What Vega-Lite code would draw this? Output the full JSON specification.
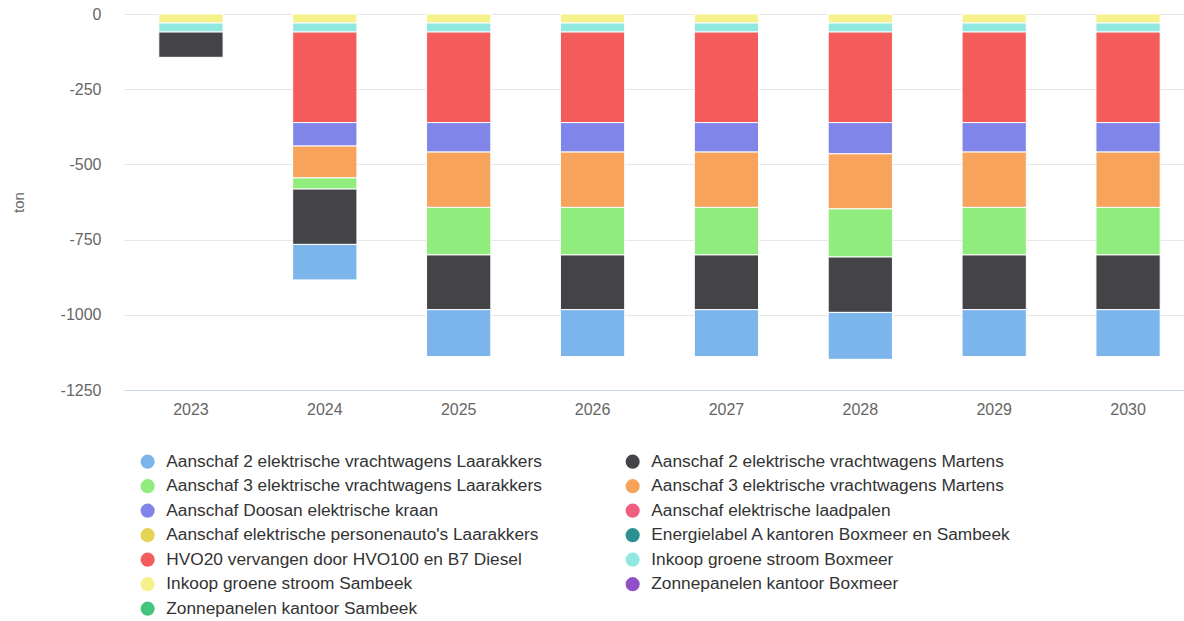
{
  "$schema": "https://vega.github.io/schema/vega-lite/v6.json",
  "autosize": {"type": "none"},
  "padding": {"left": 124, "top": 14, "right": 0, "bottom": 231},
  "width": 1071,
  "height": 376,
  "background": "white",
  "config": {
    "font": "Liberation Sans",
    "view": {"stroke": null}
  },
  "data": {
    "values": [
      {"year": "2023", "series": "Inkoop groene stroom Sambeek", "ton": -30},
      {"year": "2023", "series": "Inkoop groene stroom Boxmeer", "ton": -30},
      {"year": "2023", "series": "Aanschaf 2 elektrische vrachtwagens Martens", "ton": -84},

      {"year": "2024", "series": "Inkoop groene stroom Sambeek", "ton": -30},
      {"year": "2024", "series": "Inkoop groene stroom Boxmeer", "ton": -30},
      {"year": "2024", "series": "HVO20 vervangen door HVO100 en B7 Diesel", "ton": -301},
      {"year": "2024", "series": "Aanschaf Doosan elektrische kraan", "ton": -78},
      {"year": "2024", "series": "Aanschaf 3 elektrische vrachtwagens Martens", "ton": -106},
      {"year": "2024", "series": "Aanschaf 3 elektrische vrachtwagens Laarakkers", "ton": -37},
      {"year": "2024", "series": "Aanschaf 2 elektrische vrachtwagens Martens", "ton": -184},
      {"year": "2024", "series": "Aanschaf 2 elektrische vrachtwagens Laarakkers", "ton": -118},

      {"year": "2025", "series": "Inkoop groene stroom Sambeek", "ton": -30},
      {"year": "2025", "series": "Inkoop groene stroom Boxmeer", "ton": -30},
      {"year": "2025", "series": "HVO20 vervangen door HVO100 en B7 Diesel", "ton": -301},
      {"year": "2025", "series": "Aanschaf Doosan elektrische kraan", "ton": -98},
      {"year": "2025", "series": "Aanschaf 3 elektrische vrachtwagens Martens", "ton": -184},
      {"year": "2025", "series": "Aanschaf 3 elektrische vrachtwagens Laarakkers", "ton": -158},
      {"year": "2025", "series": "Aanschaf 2 elektrische vrachtwagens Martens", "ton": -182},
      {"year": "2025", "series": "Aanschaf 2 elektrische vrachtwagens Laarakkers", "ton": -156},

      {"year": "2026", "series": "Inkoop groene stroom Sambeek", "ton": -30},
      {"year": "2026", "series": "Inkoop groene stroom Boxmeer", "ton": -30},
      {"year": "2026", "series": "HVO20 vervangen door HVO100 en B7 Diesel", "ton": -301},
      {"year": "2026", "series": "Aanschaf Doosan elektrische kraan", "ton": -98},
      {"year": "2026", "series": "Aanschaf 3 elektrische vrachtwagens Martens", "ton": -184},
      {"year": "2026", "series": "Aanschaf 3 elektrische vrachtwagens Laarakkers", "ton": -158},
      {"year": "2026", "series": "Aanschaf 2 elektrische vrachtwagens Martens", "ton": -182},
      {"year": "2026", "series": "Aanschaf 2 elektrische vrachtwagens Laarakkers", "ton": -156},

      {"year": "2027", "series": "Inkoop groene stroom Sambeek", "ton": -30},
      {"year": "2027", "series": "Inkoop groene stroom Boxmeer", "ton": -30},
      {"year": "2027", "series": "HVO20 vervangen door HVO100 en B7 Diesel", "ton": -301},
      {"year": "2027", "series": "Aanschaf Doosan elektrische kraan", "ton": -98},
      {"year": "2027", "series": "Aanschaf 3 elektrische vrachtwagens Martens", "ton": -184},
      {"year": "2027", "series": "Aanschaf 3 elektrische vrachtwagens Laarakkers", "ton": -158},
      {"year": "2027", "series": "Aanschaf 2 elektrische vrachtwagens Martens", "ton": -182},
      {"year": "2027", "series": "Aanschaf 2 elektrische vrachtwagens Laarakkers", "ton": -156},

      {"year": "2028", "series": "Inkoop groene stroom Sambeek", "ton": -30},
      {"year": "2028", "series": "Inkoop groene stroom Boxmeer", "ton": -30},
      {"year": "2028", "series": "HVO20 vervangen door HVO100 en B7 Diesel", "ton": -301},
      {"year": "2028", "series": "Aanschaf Doosan elektrische kraan", "ton": -104},
      {"year": "2028", "series": "Aanschaf 3 elektrische vrachtwagens Martens", "ton": -183},
      {"year": "2028", "series": "Aanschaf 3 elektrische vrachtwagens Laarakkers", "ton": -160},
      {"year": "2028", "series": "Aanschaf 2 elektrische vrachtwagens Martens", "ton": -184},
      {"year": "2028", "series": "Aanschaf 2 elektrische vrachtwagens Laarakkers", "ton": -156},

      {"year": "2029", "series": "Inkoop groene stroom Sambeek", "ton": -30},
      {"year": "2029", "series": "Inkoop groene stroom Boxmeer", "ton": -30},
      {"year": "2029", "series": "HVO20 vervangen door HVO100 en B7 Diesel", "ton": -301},
      {"year": "2029", "series": "Aanschaf Doosan elektrische kraan", "ton": -98},
      {"year": "2029", "series": "Aanschaf 3 elektrische vrachtwagens Martens", "ton": -184},
      {"year": "2029", "series": "Aanschaf 3 elektrische vrachtwagens Laarakkers", "ton": -158},
      {"year": "2029", "series": "Aanschaf 2 elektrische vrachtwagens Martens", "ton": -182},
      {"year": "2029", "series": "Aanschaf 2 elektrische vrachtwagens Laarakkers", "ton": -156},

      {"year": "2030", "series": "Inkoop groene stroom Sambeek", "ton": -30},
      {"year": "2030", "series": "Inkoop groene stroom Boxmeer", "ton": -30},
      {"year": "2030", "series": "HVO20 vervangen door HVO100 en B7 Diesel", "ton": -301},
      {"year": "2030", "series": "Aanschaf Doosan elektrische kraan", "ton": -98},
      {"year": "2030", "series": "Aanschaf 3 elektrische vrachtwagens Martens", "ton": -184},
      {"year": "2030", "series": "Aanschaf 3 elektrische vrachtwagens Laarakkers", "ton": -158},
      {"year": "2030", "series": "Aanschaf 2 elektrische vrachtwagens Martens", "ton": -182},
      {"year": "2030", "series": "Aanschaf 2 elektrische vrachtwagens Laarakkers", "ton": -156}
    ]
  },
  "mark": {"type": "bar", "stroke": "white", "strokeWidth": 1},
  "encoding": {
    "x": {
      "field": "year",
      "type": "ordinal",
      "title": null,
      "scale": {"paddingInner": 0.52, "paddingOuter": 0.26},
      "axis": {
        "labelAngle": 0,
        "labelFontSize": 16,
        "labelColor": "#666666",
        "labelPadding": 11,
        "ticks": false,
        "domainColor": "#ccd6eb",
        "domainWidth": 1,
        "grid": false
      }
    },
    "y": {
      "field": "ton",
      "type": "quantitative",
      "aggregate": "sum",
      "title": "ton",
      "scale": {"domain": [-1250, 0], "nice": false},
      "axis": {
        "values": [0, -250, -500, -750, -1000, -1250],
        "labelExpr": "datum.value == 0 ? '0' : '-' + abs(datum.value)",
        "labelFontSize": 16,
        "labelColor": "#666666",
        "labelPadding": 23,
        "ticks": false,
        "domain": false,
        "gridColor": "#e6e6e6",
        "titleColor": "#666666",
        "titleFontSize": 15,
        "titleFontWeight": "normal",
        "titlePadding": 34
      }
    },
    "color": {
      "field": "series",
      "type": "nominal",
      "scale": {
        "domain": [
          "Aanschaf 2 elektrische vrachtwagens Laarakkers",
          "Aanschaf 2 elektrische vrachtwagens Martens",
          "Aanschaf 3 elektrische vrachtwagens Laarakkers",
          "Aanschaf 3 elektrische vrachtwagens Martens",
          "Aanschaf Doosan elektrische kraan",
          "Aanschaf elektrische laadpalen",
          "Aanschaf elektrische personenauto's Laarakkers",
          "Energielabel A kantoren Boxmeer en Sambeek",
          "HVO20 vervangen door HVO100 en B7 Diesel",
          "Inkoop groene stroom Boxmeer",
          "Inkoop groene stroom Sambeek",
          "Zonnepanelen kantoor Boxmeer",
          "Zonnepanelen kantoor Sambeek"
        ],
        "range": [
          "#7cb5ec", "#434348", "#90ed7d", "#f7a35c", "#8085e9", "#f15c80",
          "#e4d354", "#2b908f", "#f45b5b", "#91e8e1", "#f6f18b", "#9150c8", "#44c57e"
        ]
      },
      "legend": {
        "title": null,
        "orient": "none",
        "direction": "horizontal",
        "legendX": 15,
        "legendY": 439,
        "columns": 2,
        "columnPadding": 82,
        "rowPadding": 6.5,
        "symbolType": "circle",
        "symbolSize": 200,
        "symbolStrokeWidth": 0,
        "labelFontSize": 17.3,
        "labelColor": "#333333",
        "labelOffset": 10,
        "labelLimit": 600
      }
    },
    "order": {"field": "series", "sort": "descending"}
  }
}
